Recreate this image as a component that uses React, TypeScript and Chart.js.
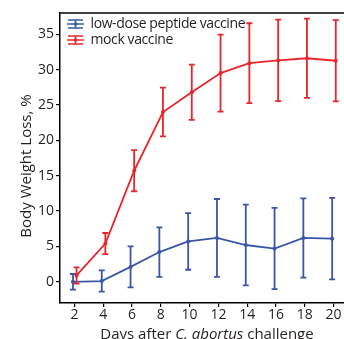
import React, { useEffect, useRef } from "react";
import { Chart, registerables } from "chart.js";

Chart.register(...registerables);

const DAYS = [2, 4, 6, 8, 10, 12, 14, 16, 18, 20];
const X_TICKS = [2, 4, 6, 8, 10, 12, 14, 16, 18, 20];
const Y_TICKS = [0, 5, 10, 15, 20, 25, 30, 35];

const LOW_DOSE_MEAN = [0.0, 0.1, 2.1, 4.2, 5.7, 6.2, 5.2, 4.7, 6.2, 6.1];
const LOW_DOSE_ERR = [1.1, 1.5, 2.9, 3.5, 4.0, 5.5, 5.7, 5.75, 5.6, 5.75];
const MOCK_MEAN = [0.9, 5.4, 15.7, 24.0, 26.8, 29.5, 30.9, 31.3, 31.6, 31.25];
const MOCK_ERR = [1.15, 1.5, 2.9, 3.45, 3.9, 5.45, 5.65, 5.75, 5.6, 5.75];

const LEGEND_LABELS = ["low-dose peptide vaccine", "mock vaccine"];
const X_TITLE_PARTS = [
  { text: "Days after ", italic: false },
  { text: "C. abortus", italic: true },
  { text: " challenge", italic: false },
];
const Y_TITLE = "Body Weight Loss, %";

const BLUE = "#3a57a7";
const RED = "#e8252b";
const BLUE_DX = -0.1;
const RED_DX = 0.15;
const FONT = "'Open Sans', 'DejaVu Sans', sans-serif";

const errorBarPlugin = {
  id: "errorBars",
  afterDatasetDraw(chart: any, args: any) {
    const ds = chart.data.datasets[args.index];
    const errs: number[] = ds.errors;
    if (!errs) return;
    const meta = args.meta;
    const ys = chart.scales.y;
    const ctx = chart.ctx;
    ctx.save();
    ctx.strokeStyle = ds.borderColor;
    ctx.lineWidth = 1.8;
    meta.data.forEach((el: any, i: number) => {
      const v = ds.data[i].y;
      const e = errs[i];
      const top = ys.getPixelForValue(v + e);
      const bot = ys.getPixelForValue(v - e);
      const x = el.x;
      const cw = 3;
      ctx.beginPath();
      ctx.moveTo(x, top);
      ctx.lineTo(x, bot);
      ctx.moveTo(x - cw, top);
      ctx.lineTo(x + cw, top);
      ctx.moveTo(x - cw, bot);
      ctx.lineTo(x + cw, bot);
      ctx.stroke();
    });
    ctx.restore();
  },
};

const decorPlugin = {
  id: "decor",
  afterDraw(chart: any) {
    const ctx = chart.ctx;
    const area = chart.chartArea;
    ctx.save();
    // top border
    ctx.strokeStyle = "#000";
    ctx.lineWidth = 1.5;
    ctx.beginPath();
    ctx.moveTo(area.left, area.top);
    ctx.lineTo(area.right, area.top);
    ctx.stroke();

    // legend
    const colors = [BLUE, RED];
    const rowsY = [24, 40];
    LEGEND_LABELS.forEach((label, i) => {
      const cy = rowsY[i];
      const cx = 75.5;
      ctx.strokeStyle = colors[i];
      ctx.fillStyle = colors[i];
      ctx.lineWidth = 1.5;
      ctx.beginPath();
      ctx.moveTo(cx - 8.5, cy);
      ctx.lineTo(cx + 8.5, cy);
      ctx.moveTo(cx - 7.5, cy - 4);
      ctx.lineTo(cx + 7.5, cy - 4);
      ctx.moveTo(cx - 7.5, cy + 4);
      ctx.lineTo(cx + 7.5, cy + 4);
      ctx.moveTo(cx, cy - 4);
      ctx.lineTo(cx, cy + 4);
      ctx.stroke();
      ctx.beginPath();
      ctx.arc(cx, cy, 1.8, 0, Math.PI * 2);
      ctx.fill();
      ctx.fillStyle = "#231f20";
      ctx.font = `14px ${FONT}`;
      (ctx as any).letterSpacing = "-0.4px";
      ctx.textBaseline = "middle";
      ctx.textAlign = "left";
      ctx.fillText(label, 90.5, cy + 0.5);
    });
    (ctx as any).letterSpacing = "0px";

    // x title
    ctx.fillStyle = "#231f20";
    ctx.textBaseline = "alphabetic";
    const parts = X_TITLE_PARTS.map((p) => ({
      ...p,
      font: `${p.italic ? "italic " : ""}15px ${FONT}`,
    }));
    let total = 0;
    parts.forEach((p) => {
      ctx.font = p.font;
      total += ctx.measureText(p.text).width;
    });
    let x = 207 - total / 2;
    parts.forEach((p) => {
      ctx.font = p.font;
      ctx.fillText(p.text, x, 339);
      x += ctx.measureText(p.text).width;
    });

    // y title
    ctx.translate(31, 166);
    ctx.rotate(-Math.PI / 2);
    ctx.font = `15px ${FONT}`;
    ctx.textAlign = "center";
    ctx.textBaseline = "alphabetic";
    ctx.fillText(Y_TITLE, 0, 0);
    ctx.restore();
  },
};

export default function App() {
  const ref = useRef<HTMLCanvasElement>(null);
  useEffect(() => {
    if (!ref.current) return;
    const chart = new Chart(ref.current, {
      type: "line",
      data: {
        datasets: [
          {
            label: LEGEND_LABELS[0],
            data: DAYS.map((d, i) => ({ x: d + BLUE_DX, y: LOW_DOSE_MEAN[i] })),
            errors: LOW_DOSE_ERR,
            borderColor: BLUE,
            backgroundColor: BLUE,
            borderWidth: 1.8,
            pointRadius: 2,
            pointBorderWidth: 0,
            tension: 0,
            order: 1,
          } as any,
          {
            label: LEGEND_LABELS[1],
            data: DAYS.map((d, i) => ({ x: d + RED_DX, y: MOCK_MEAN[i] })),
            errors: MOCK_ERR,
            borderColor: RED,
            backgroundColor: RED,
            borderWidth: 1.8,
            pointRadius: 2,
            pointBorderWidth: 0,
            tension: 0,
            order: 0,
          } as any,
        ],
      },
      options: {
        responsive: false,
        animation: false,
        devicePixelRatio: 1,
        layout: { padding: { top: 13, right: 2, left: 0, bottom: 0 } },
        plugins: {
          legend: { display: false },
          tooltip: { enabled: false },
        },
        scales: {
          x: {
            type: "linear",
            min: 1,
            max: 21,
            afterFit: (s: any) => {
              s.height = 36;
            },
            afterBuildTicks: (s: any) => {
              s.ticks = X_TICKS.map((v) => ({ value: v }));
            },
            ticks: {
              font: { family: FONT, size: 14 },
              color: "#231f20",
              padding: 0,
              maxRotation: 0,
              autoSkip: false,
            },
            grid: {
              display: true,
              drawOnChartArea: false,
              drawTicks: true,
              tickLength: 4,
              color: "#000",
              lineWidth: 1.2,
            },
            border: { display: true, color: "#000", width: 1.5 },
          },
          y: {
            type: "linear",
            min: -3,
            max: 38,
            afterFit: (s: any) => {
              s.width = 60;
            },
            afterBuildTicks: (s: any) => {
              s.ticks = Y_TICKS.map((v) => ({ value: v }));
            },
            ticks: {
              font: { family: FONT, size: 14 },
              color: "#231f20",
              padding: 2,
              autoSkip: false,
            },
            grid: {
              display: true,
              drawOnChartArea: false,
              drawTicks: true,
              tickLength: 4,
              color: "#000",
              lineWidth: 1.2,
            },
            border: { display: true, color: "#000", width: 1.5 },
          },
        },
      },
      plugins: [errorBarPlugin, decorPlugin],
    } as any);
    return () => chart.destroy();
  }, []);
  return (
    <div
      style={{
        position: "absolute",
        left: 0,
        top: 0,
        width: 344,
        height: 339,
        overflow: "hidden",
        background: "#fff",
      }}
    >
      <canvas ref={ref} width={352} height={339} style={{ display: "block" }} />
    </div>
  );
}
